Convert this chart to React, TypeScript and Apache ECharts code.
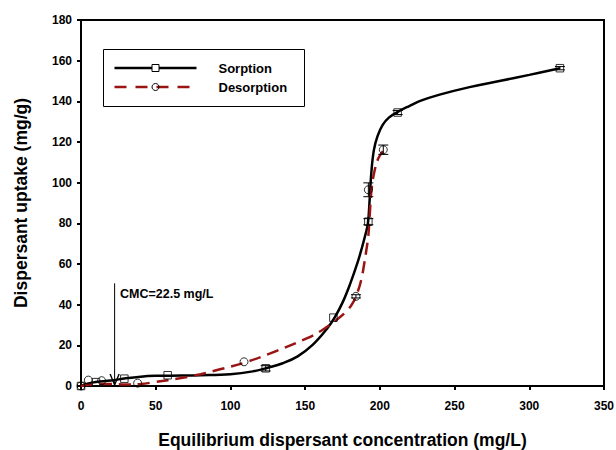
import React, { useEffect, useRef } from "react";
import * as echarts from "echarts";

// Measured points (x: equilibrium concentration mg/L, y: uptake mg/g)
const sorptionPoints: number[][] = [
  [0, 0], [10, 1.9], [29, 3.6], [58, 5.3], [123.6, 8.7], [168.9, 33.6], [192.3, 80.8], [211.9, 134.5], [320.5, 156.3],
];
const desorptionPoints: number[][] = [
  [0, 0], [4.9, 2.9], [13.8, 2.6], [37.9, 1.4], [109.1, 11.9], [184, 44.1], [192.3, 96.5], [202.3, 116.2],
];
// Error bars: [x, y, +/- error]
const sorptionErrors: number[][] = [
  [123.6, 8.7, 1.3], [192.3, 80.8, 1.5], [211.9, 134.5, 1.0], [320.5, 156.3, 0.8],
];
const desorptionErrors: number[][] = [
  [184, 44.1, 0.8], [192.3, 96.5, 3.4], [202.3, 116.2, 2.3],
];
// Fitted curves
const sorptionCurve: number[][] = [
  [0, 0], [5, 1.3], [10, 2], [20, 2.7], [30, 3.8], [40, 4.6], [50, 5], [60, 5.1], [80, 5.3], [100, 5.8],
  [115, 7.2], [125, 9], [135, 11.2], [145, 14.6], [155, 20.2], [165, 28.5], [170, 34], [175, 41],
  [180, 50], [185, 60.5], [188, 68], [190, 73.5], [192, 80], [193.2, 92], [194.3, 105], [196, 116],
  [198.5, 123], [202, 128.5], [206, 132], [211.7, 134.7], [220, 137.8], [227, 140.2], [240, 143.3],
  [260, 147], [280, 150], [300, 153], [320.5, 156.3],
];
const desorptionCurve: number[][] = [
  [0, 0], [5, 0.6], [10, 1], [20, 1], [30, 0.7], [40, 1], [50, 2], [66, 3.8], [80, 5.8], [93, 8.2],
  [110, 11.6], [131, 17.3], [151, 23.4], [161, 27.3], [171, 32.5], [178, 37], [182, 41], [185, 46],
  [187.5, 52], [189.5, 60], [191, 67], [192.3, 74], [193.3, 85], [194.5, 97], [196.5, 106], [199, 112],
  [202, 115.5],
];
const cmcArrow: number[][] = [[22.5, 50.5]];
const xTicks = { min: 0, max: 350, interval: 50 };
const yTicks = { min: 0, max: 180, interval: 20 };

const FONT = 'Arial, "Liberation Sans", sans-serif';
const RED = "#9a1414";

function errorRender(params: any, api: any) {
  const x = api.value(0);
  const y = api.value(1);
  const e = api.value(2);
  const top = api.coord([x, y + e]);
  const bot = api.coord([x, y - e]);
  const hw = 5;
  const st = { stroke: "#000", lineWidth: 1 };
  return {
    type: "group",
    children: [
      { type: "line", shape: { x1: top[0], y1: top[1], x2: bot[0], y2: bot[1] }, style: st },
      { type: "line", shape: { x1: top[0] - hw, y1: top[1], x2: top[0] + hw, y2: top[1] }, style: st },
      { type: "line", shape: { x1: bot[0] - hw, y1: bot[1], x2: bot[0] + hw, y2: bot[1] }, style: st },
    ],
  };
}

function arrowRender(params: any, api: any) {
  const x = api.value(0);
  const y = api.value(1);
  const top = api.coord([x, y]);
  const bot = api.coord([x, 0]);
  const st = { stroke: "#000", lineWidth: 1, fill: "none" };
  return {
    type: "group",
    children: [
      { type: "line", shape: { x1: top[0], y1: top[1], x2: bot[0], y2: bot[1] }, style: st },
      {
        type: "polyline",
        shape: { points: [[bot[0] - 4.5, bot[1] - 12], [bot[0], bot[1] - 1], [bot[0] + 4.5, bot[1] - 12]] },
        style: { stroke: "#000", lineWidth: 1.4, fill: "none" },
      },
    ],
  };
}

export default function App() {
  const ref = useRef<HTMLDivElement>(null);
  useEffect(() => {
    if (!ref.current) return;
    const chart = echarts.init(ref.current, null, { renderer: "svg" });
    const option: any = {
      animation: false,
      backgroundColor: "#fff",
      grid: {
        left: 81, right: 12, top: 20, bottom: 64,
        outerBoundsMode: "none", containLabel: false,
        show: true, borderColor: "#000", borderWidth: 2,
      },
      xAxis: {
        type: "value",
        min: xTicks.min,
        max: xTicks.max,
        interval: xTicks.interval,
        name: "Equilibrium dispersant concentration (mg/L)",
        nameLocation: "middle",
        nameGap: 45,
        nameTextStyle: { fontFamily: FONT, fontWeight: "bold", fontSize: 17.5, color: "#000" },
        axisLine: { lineStyle: { color: "#000", width: 2 } },
        axisTick: { show: true, length: 4, lineStyle: { color: "#000", width: 2 } },
        axisLabel: { fontFamily: FONT, fontWeight: "bold", fontSize: 12, color: "#000", margin: 14 },
        splitLine: { show: false },
      },
      yAxis: {
        type: "value",
        min: yTicks.min,
        max: yTicks.max,
        interval: yTicks.interval,
        name: "Dispersant uptake (mg/g)",
        nameLocation: "middle",
        nameGap: 51,
        nameTextStyle: { fontFamily: FONT, fontWeight: "bold", fontSize: 17.5, color: "#000" },
        axisLine: { lineStyle: { color: "#000", width: 2 } },
        axisTick: { show: true, length: 4, lineStyle: { color: "#000", width: 2 } },
        axisLabel: { fontFamily: FONT, fontWeight: "bold", fontSize: 12, color: "#000", margin: 9 },
        splitLine: { show: false },
      },
      series: [
        {
          type: "line",
          name: "Sorption fit",
          data: sorptionCurve,
          smooth: 0.4,
          showSymbol: false,
          symbol: "none",
          lineStyle: { color: "#000", width: 2.5 },
          z: 2,
        },
        {
          type: "line",
          name: "Desorption fit",
          data: desorptionCurve,
          smooth: 0.4,
          showSymbol: false,
          symbol: "none",
          lineStyle: { color: RED, width: 2.5, type: [12, 7] },
          z: 3,
        },
        {
          type: "custom",
          name: "CMC",
          data: cmcArrow,
          renderItem: arrowRender,
          clip: false,
          z: 6,
        },
        {
          type: "custom",
          name: "Sorption err",
          data: sorptionErrors,
          renderItem: errorRender,
          z: 4,
        },
        {
          type: "custom",
          name: "Desorption err",
          data: desorptionErrors,
          renderItem: errorRender,
          z: 4,
        },
        {
          type: "scatter",
          name: "Sorption",
          data: sorptionPoints,
          symbol: "rect",
          symbolSize: 7.5,
          itemStyle: { color: "rgba(255,255,255,0)", borderColor: "#000", borderWidth: 1 },
          z: 5,
        },
        {
          type: "scatter",
          name: "Desorption",
          data: desorptionPoints,
          symbol: "circle",
          symbolSize: 8,
          itemStyle: { color: "rgba(255,255,255,0)", borderColor: "#000", borderWidth: 1 },
          z: 5,
        },
      ],
      graphic: [
        {
          type: "text",
          left: 120,
          top: 287,
          style: { text: "CMC=22.5 mg/L", fontFamily: FONT, fontWeight: "bold", fontSize: 12.5, fill: "#000" },
          z: 10,
        },
        {
          type: "group",
          left: 103,
          top: 49,
          z: 10,
          children: [
            { type: "rect", shape: { x: 0, y: 0, width: 201, height: 57 }, style: { fill: "#fff", stroke: "#000", lineWidth: 1 } },
            { type: "line", shape: { x1: 11, y1: 18.5, x2: 93, y2: 18.5 }, style: { stroke: "#000", lineWidth: 2.5 } },
            { type: "rect", shape: { x: 48.5, y: 15, width: 7, height: 7 }, style: { fill: "#fff", stroke: "#000", lineWidth: 1 } },
            { type: "text", x: 115, y: 19, style: { text: "Sorption", fontFamily: FONT, fontWeight: "bold", fontSize: 13, fill: "#000", verticalAlign: "middle" } },
            { type: "line", shape: { x1: 11, y1: 37.5, x2: 93, y2: 37.5 }, style: { stroke: RED, lineWidth: 2.5, lineDash: [12, 9] } },
            { type: "circle", shape: { cx: 52, cy: 37.5, r: 3.5 }, style: { fill: "none", stroke: "#000", lineWidth: 1 } },
            { type: "text", x: 115, y: 38, style: { text: "Desorption", fontFamily: FONT, fontWeight: "bold", fontSize: 13, fill: "#000", verticalAlign: "middle" } },
          ],
        },
      ],
    };
    chart.setOption(option);
    return () => chart.dispose();
  }, []);
  return <div ref={ref} style={{ position: "fixed", left: 0, top: 0, width: 616, height: 450 }} />;
}
